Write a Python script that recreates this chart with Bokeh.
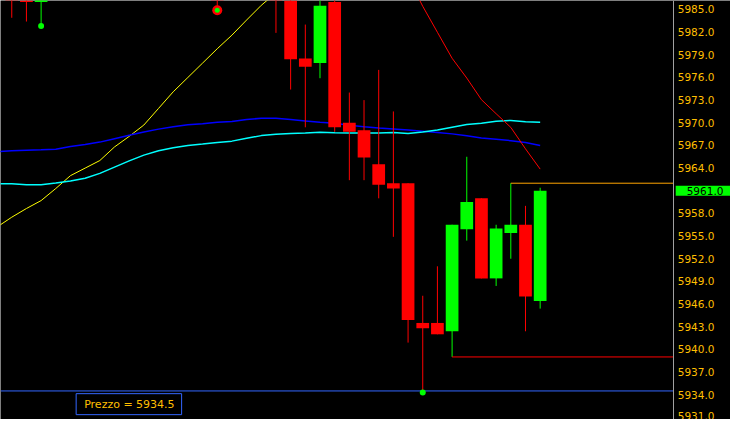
import numpy as np
from bokeh.plotting import figure
from bokeh.models import Range1d, FixedTicker, PrintfTickFormatter, Label
from bokeh.embed import file_html
from bokeh.resources import INLINE

# ---- candles (bar index, OHLC) ----
bar_index = [0, 1, 2, 14, 18, 19, 20, 21, 22, 23, 24, 25, 26, 27, 28, 29, 30, 31, 32, 33, 34, 35, 36]
bar_open  = [5989.0, 5988.5, 5986.0, 5992.0, 5995.0, 5990.5, 5978.5, 5977.9, 5986.0, 5970.0, 5969.0, 5964.5,
             5962.0, 5962.0, 5943.5, 5943.5, 5942.4, 5955.9, 5960.0, 5949.4, 5955.4, 5956.5, 5946.4]
bar_high  = [5990.0, 5989.5, 5989.5, 5993.0, 5996.0, 5991.5, 5983.0, 5988.0, 5987.5, 5974.0, 5973.0, 5977.0,
             5971.5, 5962.0, 5947.1, 5951.0, 5956.5, 5965.5, 5960.0, 5956.5, 5962.0, 5959.0, 5961.4]
bar_low   = [5983.9, 5983.4, 5982.9, 5985.3, 5981.9, 5974.4, 5969.4, 5975.9, 5968.8, 5962.4, 5962.4, 5960.0,
             5954.9, 5940.9, 5934.5, 5942.0, 5939.0, 5954.4, 5949.4, 5948.4, 5952.0, 5942.4, 5945.4]
bar_close = [5987.0, 5986.0, 5988.5, 5990.0, 5990.5, 5978.4, 5977.4, 5985.5, 5969.4, 5968.8, 5965.4, 5961.8,
             5961.3, 5943.9, 5942.8, 5942.0, 5956.5, 5959.5, 5949.4, 5956.0, 5956.5, 5947.0, 5961.0]

# ---- moving averages ----
ma_index = list(range(-1, 37))
yellow_index = list(range(-1, 19))
yellow_ma = [5956.2, 5957.5, 5958.65, 5959.7, 5961.3, 5963.0, 5964.0, 5965.0, 5966.8, 5968.2, 5969.7,
             5971.9, 5974.1, 5976.0, 5977.9, 5979.8, 5981.6, 5983.6, 5985.55, 5987.2]
blue_ma = [5966.17, 5966.3, 5966.36, 5966.42, 5966.49, 5966.87, 5967.12, 5967.44, 5967.89, 5968.34, 5968.78,
           5969.16, 5969.48, 5969.74, 5969.87, 5970.06, 5970.18, 5970.44, 5970.59, 5970.59, 5970.44, 5970.25,
           5970.06, 5969.93, 5969.67, 5969.48, 5969.32, 5969.19, 5969.04, 5968.88, 5968.72, 5968.53, 5968.27,
           5967.99, 5967.83, 5967.63, 5967.38, 5967.0]
cyan_ma = [5961.92, 5961.92, 5961.79, 5961.79, 5962.02, 5962.28, 5962.66, 5963.30, 5964.13, 5964.96, 5965.72,
           5966.30, 5966.68, 5967.00, 5967.19, 5967.40, 5967.57, 5967.95, 5968.30, 5968.49, 5968.59, 5968.65,
           5968.74, 5968.68, 5968.63, 5968.63, 5968.63, 5968.72, 5968.59, 5968.78, 5969.04, 5969.42, 5969.78,
           5969.95, 5970.21, 5970.31, 5970.12, 5970.08]
red_index = list(range(26, 37))
red_ma = [5992.6, 5989.25, 5985.42, 5981.98, 5978.54, 5975.92, 5973.05, 5971.2, 5969.39, 5966.55, 5963.87]

# ---- markers ----
dot_index = [2, 28]
dot_price = [5982.8, 5934.3]
ring_index = [14]
ring_price = [5984.9]

# ---- levels ----
high_level_index, high_level = 34, 5962.0
low_level_index, low_level = 30, 5939.0
cursor_price = 5934.5
last_price = 5961.0

# ---- axis ticks ----
tick_values = [5931.0 + 3.0 * k for k in range(19)]

UP = "#00FF00"
DN = "#FF0000"
AXIS_TXT = "#FFBF00"

X_START, X_END = -0.7667, 48.967   # visible bar-index span
AXIS_X = 45.1                        # price scale sits here

p = figure(width=730, height=419, output_backend="svg", toolbar_location=None,
           x_range=Range1d(X_START, X_END), y_range=Range1d(5930.72, 5986.186),
           x_axis_location=None, y_axis_location="right",
           background_fill_color="black", border_fill_color="black", outline_line_color=None,
           min_border_left=0, min_border_top=0, min_border_bottom=0, min_border_right=0)
p.grid.grid_line_color = None

ax = p.yaxis[0]
ax.fixed_location = AXIS_X
ax.ticker = FixedTicker(ticks=tick_values)
ax.formatter = PrintfTickFormatter(format="%.1f")
ax.axis_line_color = "#A0A0A0"
ax.axis_line_width = 1
ax.major_tick_line_color = None
ax.minor_tick_line_color = None
ax.major_tick_out = 0
ax.major_tick_in = 0
ax.major_label_standoff = 4
ax.major_label_text_color = AXIS_TXT
ax.major_label_text_font = "DejaVu Sans"
ax.major_label_text_font_size = "10.5px"

# moving averages
p.line(yellow_index, yellow_ma, line_color="#FFFF00", line_width=1)
p.line(ma_index, blue_ma, line_color="#0000FF", line_width=1.5)
p.line(ma_index, cyan_ma, line_color="#00FFFF", line_width=1.5)
p.line(red_index, red_ma, line_color="#FF0000", line_width=1)

# candles
o = np.array(bar_open); c = np.array(bar_close)
colors = [UP if cc > oo else DN for oo, cc in zip(o, c)]
p.segment(x0=bar_index, y0=bar_high, x1=bar_index, y1=bar_low, line_color=colors, line_width=1)
p.vbar(x=bar_index, width=13 / 15, top=bar_open, bottom=bar_close, fill_color=colors, line_color=None)

# level lines (end at the price scale)
p.segment(x0=[high_level_index], y0=[high_level], x1=[AXIS_X], y1=[high_level], line_color="#FFA500", line_width=1)
p.segment(x0=[low_level_index], y0=[low_level], x1=[AXIS_X], y1=[low_level], line_color="#FF0000", line_width=1)
p.segment(x0=[X_START], y0=[cursor_price], x1=[AXIS_X], y1=[cursor_price], line_color="#3366FF", line_width=1)

# markers
p.scatter(ring_index, ring_price, size=10, marker="circle", fill_color="#FF0000", line_color=None)
p.scatter(ring_index, ring_price, size=5, marker="circle", fill_color="#00FF00", line_color=None)
p.scatter(dot_index, dot_price, size=6, marker="circle", fill_color="#00FF00", line_color=None)

# labels
p.add_layout(Label(x=4.387, y=5932.75, text=f"Prezzo = {cursor_price:.1f}",
                   text_align="left", text_baseline="middle",
                   text_font="DejaVu Sans", text_font_size="11px", text_color=AXIS_TXT,
                   background_fill_color="black", border_line_color="#3366FF", border_line_width=1,
                   padding=dict(left=8, right=7, top=4, bottom=4)))
p.add_layout(Label(x=45.233, y=last_price, text=f"{last_price:.1f}",
                   text_align="left", text_baseline="middle",
                   text_font="DejaVu Sans", text_font_size="10.5px", text_color="black",
                   background_fill_color="#00FF00",
                   padding=dict(left=11, right=9, top=1, bottom=1)))

open("out.html", "w").write(file_html(p, INLINE))
